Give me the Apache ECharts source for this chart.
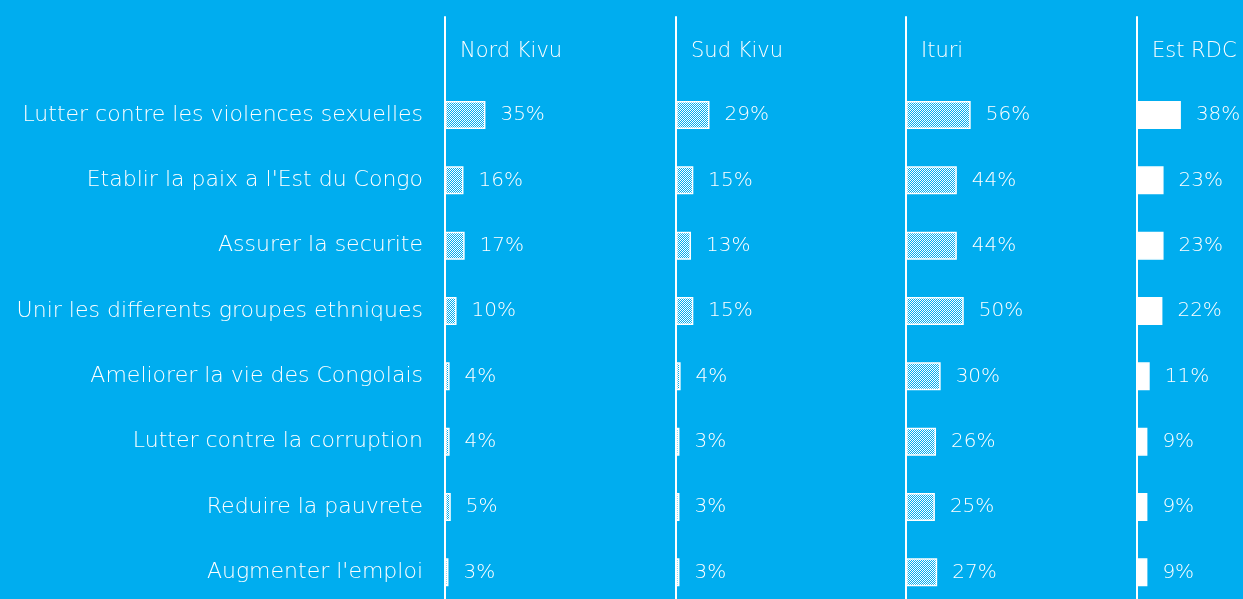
<!DOCTYPE html>
<html>
<head>
<meta charset="utf-8">
<script src="https://cdn.jsdelivr.net/npm/echarts@6/dist/echarts.min.js"></script>
<style>
  html, body { margin: 0; padding: 0; background: #00adef; }
  #chart { width: 1243px; height: 599px; }
</style>
</head>
<body>
<div id="chart"></div>
<script>
// first row is empty: it holds the panel titles
const categories = [
  "",
  "Lutter contre les violences sexuelles",
  "Etablir la paix a l'Est du Congo",
  "Assurer la securite",
  "Unir les differents groupes ethniques",
  "Ameliorer la vie des Congolais",
  "Lutter contre la corruption",
  "Reduire la pauvrete",
  "Augmenter l'emploi"
]
const regions = ["Nord Kivu", "Sud Kivu", "Ituri", "Est RDC"]
const nordKivu = [null, 35, 16, 17, 10, 4, 4, 5, 3]
const sudKivu = [null, 29, 15, 13, 15, 4, 3, 3, 3]
const ituri = [null, 56, 44, 44, 50, 30, 26, 25, 27]
const estRdc = [null, 38, 23, 23, 22, 11, 9, 9, 9]
const values = [nordKivu, sudKivu, ituri, estRdc]

const bg = "#00adef"
const font = "'DejaVu Sans', sans-serif"

// small white checker pattern
const makePattern = () => {
  const c = document.createElement("canvas")
  c.width = 2
  c.height = 2
  const ctx = c.getContext("2d")
  ctx.fillStyle = "#ffffff"
  ctx.fillRect(0, 0, 1, 1)
  ctx.fillRect(1, 1, 1, 1)
  return c
}
const pattern = { image: makePattern(), repeat: "repeat" }

const lefts = [445, 676, 906, 1137]

const chart = echarts.init(document.getElementById("chart"))

const option = {
  backgroundColor: bg,
  animation: false,
  title: regions.map((r, i) => ({
    text: r,
    left: lefts[i] + 10,
    top: 36,
    textStyle: { color: "#fff", fontFamily: font, fontWeight: 200, fontSize: 21 }
  })),
  grid: lefts.map((l) => ({
    left: l, top: 17, width: 231, height: 588,
    outerBoundsMode: "none"
  })),
  xAxis: lefts.map((l, i) => ({
    gridIndex: i,
    type: "value",
    min: 0,
    max: 200,
    show: false
  })),
  yAxis: lefts.map((l, i) => ({
    gridIndex: i,
    type: "category",
    inverse: true,
    data: categories,
    axisLine: { show: true, lineStyle: { color: "#fff", width: 2 } },
    axisTick: { show: false },
    axisLabel: {
      show: i === 0,
      color: "#fff",
      fontFamily: font,
      fontWeight: 200,
      fontSize: 22,
      margin: 22
    }
  })),
  series: values.map((v, i) => ({
    type: "bar",
    xAxisIndex: i,
    yAxisIndex: i,
    data: v,
    barWidth: 28,
    itemStyle: {
      color: i === 3 ? "#fff" : pattern,
      borderColor: "#fff",
      borderWidth: 1.5
    },
    label: {
      show: true,
      position: "right",
      distance: 15,
      color: "#fff",
      fontFamily: font,
      fontWeight: 200,
      fontSize: 20,
      formatter: (p) => p.value + "%"
    }
  }))
}

chart.setOption(option)
</script>
</body>
</html>
